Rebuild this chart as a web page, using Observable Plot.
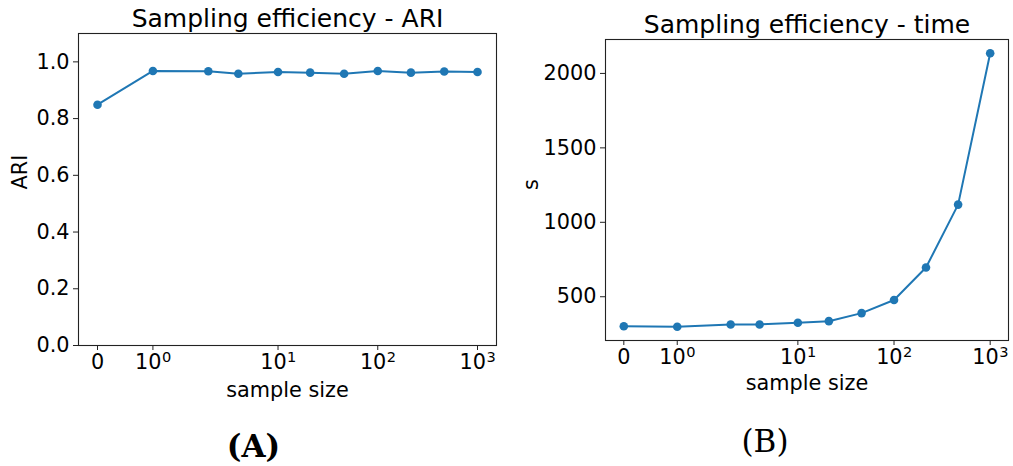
<!DOCTYPE html>
<html>
<head>
<meta charset="utf-8">
<script src="https://cdn.jsdelivr.net/npm/d3@7"></script>
<script src="https://cdn.jsdelivr.net/npm/@observablehq/plot@0.6"></script>
<style>
  html, body { margin: 0; padding: 0; background: #fff; overflow: hidden; }
  #wrap { position: relative; width: 1013px; height: 466px; }
  #wrap > div, #wrap > svg { position: absolute; top: 0; }
</style>
</head>
<body>
<div id="wrap"></div>
<script>
// ---- data ----
const sampleSizes = [0, 1, 2, 4, 10, 21, 46, 100, 215, 464, 1000];
const ariValues   = [0.849, 0.968, 0.967, 0.958, 0.964, 0.962, 0.958, 0.968, 0.962, 0.966, 0.964];
const timeValues  = [302, 298, 314, 314, 325, 336, 390, 478, 696, 1119, 2136];
const xTickValues = [0, 1, 10, 100, 1000];
const xTickBases  = ["0", "10", "10", "10", "10"];
const xTickExps   = ["", "0", "1", "2", "3"];
const ariTicks    = [0, 0.2, 0.4, 0.6, 0.8, 1.0];
const timeTicks   = [500, 1000, 1500, 2000];
const titles      = ["Sampling efficiency - ARI", "Sampling efficiency - time"];
const yLabels     = ["ARI", "s"];
const xLabel      = "sample size";
const panelTags   = ["(A)", "(B)"];

// matplotlib-style symlog transform (linthresh = 2, linscale = 1, base 10)
const LINTHRESH = 2;
const LINSCALE_ADJ = 1 / (1 - 1 / 10);
function symlog(x) {
  const a = Math.abs(x);
  if (a <= LINTHRESH) return x * LINSCALE_ADJ;
  return Math.sign(x) * LINTHRESH * (LINSCALE_ADJ + Math.log10(a / LINTHRESH));
}

const color = "#1f77b4";
const FS = 20.8;
const EXP_FS = 14.6;

const xPos = sampleSizes.map(symlog);
const xTickPos = xTickValues.map(symlog);
const tickRows = xTickValues.map((v, i) => ({pos: xTickPos[i], base: xTickBases[i], exp: xTickExps[i]}));
const plainTicks = tickRows.filter(d => d.exp === "");
const powerTicks = tickRows.filter(d => d.exp !== "");
const xMin = d3.min(xPos), xMax = d3.max(xPos);
const xPad = (xMax - xMin) * 0.05;
const xDomain = [xMin - xPad, xMax + xPad];

// widths for centring "10^k" like matplotlib mathtext
const baseW = 1.272 * FS, expW = 0.636 * EXP_FS;
const baseEnd = baseW - (baseW + expW) / 2;

function panel({values, yDomain, yTicks, yFormat, title, yLabel, tag, tagBold,
                width, height, mL, mR, mT, mB, titleDy, xlabDy, ylabDx, tagDx, tagDy}) {
  const rows = sampleSizes.map((n, i) => ({n, xt: xPos[i], v: values[i]}));
  const tickTextDy = 5 + 4;
  return Plot.plot({
    width, height,
    marginLeft: mL, marginRight: mR, marginTop: mT, marginBottom: mB,
    style: {fontFamily: "DejaVu Sans", fontSize: FS + "px", color: "#000", background: "transparent", overflow: "visible"},
    x: {type: "linear", domain: xDomain},
    y: {type: "linear", domain: yDomain},
    marks: [
      Plot.frame({stroke: "#222", strokeWidth: 1.1}),
      Plot.axisX({ticks: xTickPos, tickFormat: () => "", tickSize: 5, label: null, stroke: "#222"}),
      Plot.text(plainTicks, {x: "pos", text: "base", frameAnchor: "bottom", lineAnchor: "top",
                             dy: tickTextDy, fontSize: FS, fill: "#000"}),
      Plot.text(powerTicks, {x: "pos", text: "base", frameAnchor: "bottom", lineAnchor: "top",
                             textAnchor: "end", dx: baseEnd, dy: tickTextDy, fontSize: FS, fill: "#000"}),
      Plot.text(powerTicks, {x: "pos", text: "exp", frameAnchor: "bottom", lineAnchor: "bottom",
                             textAnchor: "start", dx: baseEnd + 0.5, dy: tickTextDy + 0.71 * FS - 7.5,
                             fontSize: EXP_FS, fill: "#000"}),
      Plot.axisY({ticks: yTicks, tickFormat: yFormat, tickSize: 5, tickPadding: 4,
                  fontSize: FS, label: null, stroke: "#222"}),
      Plot.line(rows, {x: "xt", y: "v", stroke: color, strokeWidth: 2}),
      Plot.dot(rows, {x: "xt", y: "v", r: 4.3, fill: color, stroke: "none"}),
      Plot.text([title], {frameAnchor: "top", lineAnchor: "bottom", dy: titleDy, fontSize: 25, fill: "#000"}),
      Plot.text([xLabel], {frameAnchor: "bottom", lineAnchor: "bottom", dy: xlabDy, fontSize: FS, fill: "#000"}),
      Plot.text([yLabel], {frameAnchor: "left", rotate: -90, dx: ylabDx, fontSize: FS, fill: "#000"}),
      Plot.text([tag], {frameAnchor: "bottom", lineAnchor: "bottom", dx: tagDx, dy: tagDy, fontSize: 31,
                        fontFamily: "DejaVu Serif", fontWeight: tagBold ? "bold" : "normal", fill: "#000"})
    ]
  });
}

const tMin = d3.min(timeValues), tMax = d3.max(timeValues);
const tPad = (tMax - tMin) * 0.05;

const a = panel({
  values: ariValues, yDomain: [0, 1.1], yTicks: ariTicks, yFormat: d3.format(".1f"),
  title: titles[0], yLabel: yLabels[0], tag: panelTags[0], tagBold: true,
  width: 506, height: 466, mL: 78, mR: 10, mT: 33, mB: 121,
  titleDy: -7, xlabDy: 51, ylabDx: -58, tagDx: -34, tagDy: 111
});
a.style.left = "0px";

const b = panel({
  values: timeValues, yDomain: [tMin - tPad, tMax + tPad], yTicks: timeTicks, yFormat: d3.format("d"),
  title: titles[1], yLabel: yLabels[1], tag: panelTags[1], tagBold: false,
  width: 508, height: 466, mL: 100, mR: 5, mT: 39, mB: 126,
  titleDy: -6.5, xlabDy: 49.5, ylabDx: -74, tagDx: -42, tagDy: 111
});
b.style.left = "505px";

const wrap = document.getElementById("wrap");
wrap.appendChild(a);
wrap.appendChild(b);
</script>
</body>
</html>
